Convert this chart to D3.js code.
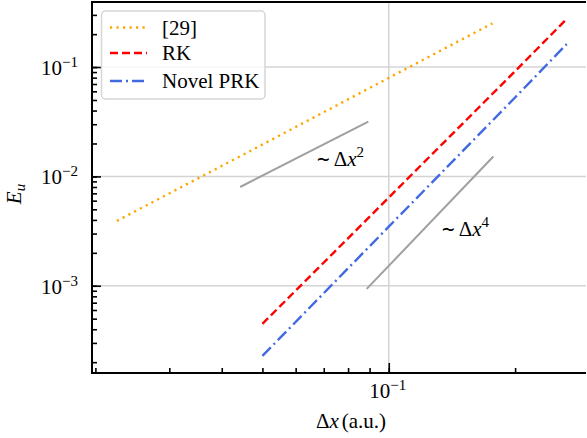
<!DOCTYPE html>
<html>
<head>
<meta charset="utf-8">
<script src="https://cdn.jsdelivr.net/npm/d3@7"></script>
<style>
  body { margin: 0; background: #fff; }
</style>
</head>
<body>
<div id="chart"></div>
<script>
// convergence data
const refDx = [0.0225, 0.045, 0.09, 0.1766];
const refErr = [3.92e-3, 0.0158, 0.0643, 0.251];

const rkDx = [0.05, 0.1, 0.2, 0.2654];
const rkErr = [4.48e-4, 6.4e-3, 0.0917, 0.275];

const prkDx = [0.05, 0.1, 0.2, 0.2654];
const prkErr = [2.28e-4, 3.47e-3, 0.0527, 0.162];

// slope guides
const order2Dx = [0.04426, 0.0894];
const order2Err = [8.0e-3, 0.0317];
const order4Dx = [0.0886, 0.1775];
const order4Err = [9.35e-4, 0.0152];

const xMajor = [0.1];
const yMajor = [1e-3, 1e-2, 1e-1];

const width = 587, height = 438;
const plotLeft = 92, plotRight = 586, plotTop = 2, plotBottom = 373;
const fontSize = 21, supSize = 15;
const serifFont = "'Liberation Serif', monospace";

const svg = d3.select("#chart").append("svg")
    .attr("width", width)
    .attr("height", height);

const x = d3.scaleLog().domain([0.01963, 0.2951]).range([plotLeft, plotRight]);
const y = d3.scaleLog().domain([1.592e-4, 0.3936]).range([plotBottom, plotTop]);

// minor tick values
let xMinor = [], yMinor = [];
[0.01, 0.1].forEach(function(b) {
    for (let k = 1; k < 10; k++) {
        const v = b * k;
        if (v >= x.domain()[0] && v <= x.domain()[1]) xMinor.push(v);
    }
});
[1e-4, 1e-3, 1e-2, 1e-1].forEach(function(b) {
    for (let k = 1; k < 10; k++) {
        const v = b * k;
        if (v >= y.domain()[0] && v <= y.domain()[1]) yMinor.push(v);
    }
});

// grid
const grid = svg.append("g").attr("stroke", "#d4d4d4").attr("stroke-width", 1.5);
yMajor.forEach(function(v) {
    grid.append("line").attr("x1", plotLeft).attr("x2", plotRight)
        .attr("y1", y(v)).attr("y2", y(v));
});
xMajor.forEach(function(v) {
    grid.append("line").attr("y1", plotTop).attr("y2", plotBottom)
        .attr("x1", x(v)).attr("x2", x(v));
});

// axes (ticks pointing inward)
svg.append("g").attr("transform", "translate(0," + plotBottom + ")")
    .call(d3.axisBottom(x).tickValues(xMinor).tickSize(-5).tickFormat(""))
    .call(g => g.select(".domain").remove());
svg.append("g").attr("transform", "translate(0," + plotBottom + ")")
    .call(d3.axisBottom(x).tickValues(xMajor).tickSize(-10).tickFormat(""))
    .call(g => g.select(".domain").remove());
svg.append("g").attr("transform", "translate(" + plotLeft + ",0)")
    .call(d3.axisLeft(y).tickValues(yMinor).tickSize(-5).tickFormat(""))
    .call(g => g.select(".domain").remove());
svg.append("g").attr("transform", "translate(" + plotLeft + ",0)")
    .call(d3.axisLeft(y).tickValues(yMajor).tickSize(-9).tickFormat(""))
    .call(g => g.select(".domain").remove());
svg.selectAll(".tick line").attr("stroke", "#000").attr("stroke-width", 1.6);
svg.selectAll(".tick text").remove();

// spines
svg.append("path")
    .attr("d", "M" + plotRight + "," + plotTop + "H" + plotLeft + "V" + plotBottom + "H" + plotRight)
    .attr("fill", "none").attr("stroke", "#000").attr("stroke-width", 2);

// tick labels
function powerLabel(sel, v) {
    const e = Math.round(Math.log10(v));
    sel.append("tspan").text("10");
    sel.append("tspan").attr("dy", -8).attr("font-size", supSize).text("\u2212" + Math.abs(e));
}
yMajor.forEach(function(v) {
    const t = svg.append("text").attr("x", 78).attr("y", y(v) + 8)
        .attr("text-anchor", "end").attr("font-size", fontSize);
    powerLabel(t, v);
});
xMajor.forEach(function(v) {
    const t = svg.append("text").attr("x", x(v) - 1).attr("y", 398)
        .attr("text-anchor", "middle").attr("font-size", fontSize);
    powerLabel(t, v);
});

// axis titles
svg.append("text").attr("x", 351).attr("y", 428).attr("text-anchor", "middle")
    .attr("font-size", fontSize)
    .call(t => {
        t.append("tspan").text("\u0394");
        t.append("tspan").attr("font-style", "italic").text("x");
        t.append("tspan").attr("dx", 3).text("(a.u.)");
    });
svg.append("text").attr("transform", "translate(21,194) rotate(-90)")
    .attr("text-anchor", "middle").attr("font-size", fontSize)
    .call(t => {
        t.append("tspan").attr("font-style", "italic").text("E");
        t.append("tspan").attr("font-style", "italic").attr("font-size", supSize).attr("dy", 4).text("u");
    });

const line = d3.line().x(d => x(d[0])).y(d => y(d[1]));

function series(dx, err, color, dash, w) {
    svg.append("path")
        .datum(d3.zip(dx, err))
        .attr("d", line)
        .attr("fill", "none")
        .attr("stroke", color)
        .attr("stroke-width", w)
        .attr("stroke-dasharray", dash);
}

series(order2Dx, order2Err, "#a0a0a0", null, 2);
series(order4Dx, order4Err, "#a0a0a0", null, 2);
series(refDx, refErr, "orange", "2.2,4.3", 2.4);
series(rkDx, rkErr, "red", "8,4", 2.4);
series(prkDx, prkErr, "royalblue", "12,4,2,4", 2.4);

// slope annotations
function slopeLabel(px, py, p) {
    const t = svg.append("text").attr("x", px).attr("y", py).attr("font-size", fontSize);
    t.append("tspan").text("\u223C \u0394");
    t.append("tspan").attr("font-style", "italic").text("x");
    t.append("tspan").attr("dy", -9).attr("font-size", supSize).text(p);
}
slopeLabel(317, 166, "2");
slopeLabel(442, 236, "4");

// legend
const legend = svg.append("g");
legend.append("rect")
    .attr("x", 101.5).attr("y", 11).attr("width", 163.5).attr("height", 88)
    .attr("rx", 4).attr("fill", "#fff").attr("fill-opacity", 0.8)
    .attr("stroke", "#d6d6d6").attr("stroke-width", 1.5);
const legendItems = [
    { label: "[29]", color: "orange", dash: "2.2,4.3", yy: 27.5 },
    { label: "RK", color: "red", dash: "8,4", yy: 53 },
    { label: "Novel PRK", color: "royalblue", dash: "12,4,2,4", yy: 81 }
];
legendItems.forEach(function(d) {
    legend.append("line").attr("x1", 110).attr("x2", 147)
        .attr("y1", d.yy).attr("y2", d.yy)
        .attr("stroke", d.color).attr("stroke-width", 2.4)
        .attr("stroke-dasharray", d.dash);
    legend.append("text").attr("x", 162).attr("y", d.yy + 7)
        .attr("font-size", fontSize).text(d.label);
});

svg.selectAll("text").attr("font-family", serifFont);
</script>
</body>
</html>
